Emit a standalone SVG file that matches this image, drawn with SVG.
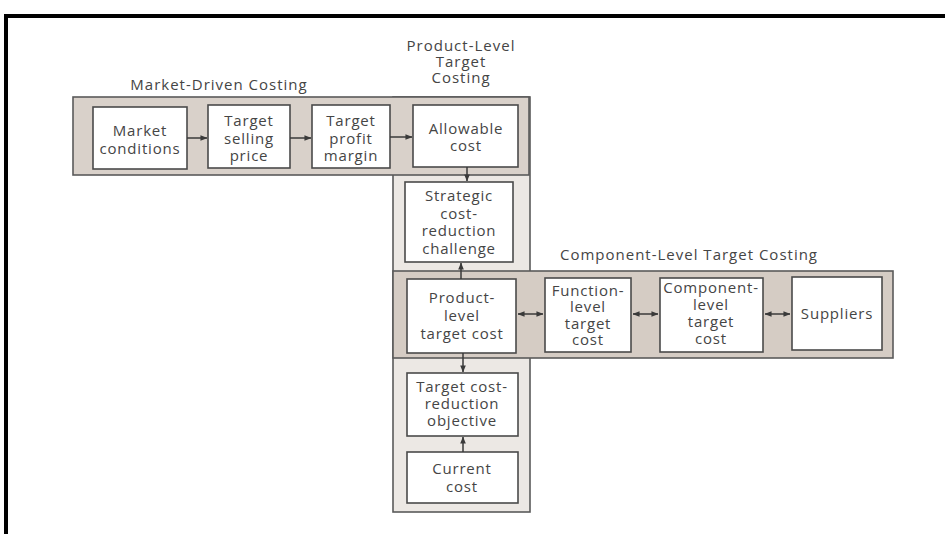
<svg xmlns="http://www.w3.org/2000/svg" width="945" height="534" viewBox="0 0 945 534">
<style>
.band{stroke:#5a5a5a;stroke-width:1.6}
.col{fill:#ece8e4}
.mk{fill:#d9d1ca}
.cp{fill:#d5ccc4}
.box{fill:#ffffff;stroke:#4a4a4a;stroke-width:1.6}
text{font-family:"Open Sans","Noto Sans","DejaVu Sans",sans-serif;fill:#454545;text-anchor:middle}
.t{font-size:15px;letter-spacing:0.8px}
.h{font-size:15px;letter-spacing:1px}
.c{stroke:#3a3a3a;stroke-width:1.5;fill:none}
</style>
<defs>
<marker id="ah" viewBox="0 0 8 8" refX="7.5" refY="4" markerWidth="7" markerHeight="7" markerUnits="userSpaceOnUse" orient="auto-start-reverse">
<path d="M0,0.8 L8,4 L0,7.2 Z" fill="#3a3a3a"/>
</marker>
</defs>
<rect width="945" height="534" fill="#ffffff"/>
<path d="M6,534 V16 H945" fill="none" stroke="#000" stroke-width="4"/>

<g id="bands">
<rect class="band col" x="393" y="97" width="137" height="415"/>
<rect class="band mk" x="73" y="97" width="456" height="78"/>
<rect class="band cp" x="393" y="271" width="500" height="87"/>
</g>

<g id="labels">
<text class="h" x="219" y="90">Market-Driven Costing</text>
<text class="h" x="461" y="51">Product-Level</text>
<text class="h" x="461" y="67">Target</text>
<text class="h" x="461" y="83">Costing</text>
<text class="h" x="689" y="260">Component-Level Target Costing</text>
</g>

<g id="market-conditions">
<rect class="box" x="93" y="107" width="94" height="62"/>
<text class="t" x="140" y="136">Market</text>
<text class="t" x="140" y="154">conditions</text>
</g>
<g id="target-selling-price">
<rect class="box" x="208" y="105" width="82" height="63"/>
<text class="t" x="249" y="126">Target</text>
<text class="t" x="249" y="144">selling</text>
<text class="t" x="249" y="161">price</text>
</g>
<g id="target-profit-margin">
<rect class="box" x="312" y="105" width="78" height="63"/>
<text class="t" x="351" y="126">Target</text>
<text class="t" x="351" y="144">profit</text>
<text class="t" x="351" y="161">margin</text>
</g>
<g id="allowable-cost">
<rect class="box" x="413" y="105" width="105" height="62"/>
<text class="t" x="466" y="134">Allowable</text>
<text class="t" x="466" y="151">cost</text>
</g>
<g id="strategic-challenge">
<rect class="box" x="405" y="182" width="108" height="80"/>
<text class="t" x="459" y="201">Strategic</text>
<text class="t" x="459" y="219">cost-</text>
<text class="t" x="459" y="236">reduction</text>
<text class="t" x="459" y="254">challenge</text>
</g>
<g id="product-level-target-cost">
<rect class="box" x="407" y="279" width="109" height="74"/>
<text class="t" x="462" y="303">Product-</text>
<text class="t" x="462" y="321">level</text>
<text class="t" x="462" y="339">target cost</text>
</g>
<g id="function-level-target-cost">
<rect class="box" x="545" y="278" width="86" height="74"/>
<text class="t" x="588" y="296">Function-</text>
<text class="t" x="588" y="312">level</text>
<text class="t" x="588" y="329">target</text>
<text class="t" x="588" y="345">cost</text>
</g>
<g id="component-level-target-cost">
<rect class="box" x="660" y="278" width="103" height="74"/>
<text class="t" x="711" y="293">Component-</text>
<text class="t" x="711" y="310">level</text>
<text class="t" x="711" y="327">target</text>
<text class="t" x="711" y="344">cost</text>
</g>
<g id="suppliers">
<rect class="box" x="792" y="277" width="90" height="73"/>
<text class="t" x="837" y="319">Suppliers</text>
</g>
<g id="target-cost-reduction-objective">
<rect class="box" x="407" y="373" width="111" height="63"/>
<text class="t" x="462" y="392">Target cost-</text>
<text class="t" x="462" y="409">reduction</text>
<text class="t" x="462" y="426">objective</text>
</g>
<g id="current-cost">
<rect class="box" x="407" y="452" width="111" height="51"/>
<text class="t" x="462" y="474">Current</text>
<text class="t" x="462" y="492">cost</text>
</g>

<g id="connectors">
<line class="c" x1="187" y1="138" x2="207" y2="138" marker-end="url(#ah)"/>
<line class="c" x1="290" y1="138" x2="311" y2="138" marker-end="url(#ah)"/>
<line class="c" x1="390" y1="137" x2="412" y2="137" marker-end="url(#ah)"/>
<line class="c" x1="467" y1="167" x2="467" y2="181" marker-end="url(#ah)"/>
<line class="c" x1="461" y1="279" x2="461" y2="263" marker-end="url(#ah)"/>
<line class="c" x1="463" y1="353" x2="463" y2="372" marker-end="url(#ah)"/>
<line class="c" x1="463" y1="452" x2="463" y2="437" marker-end="url(#ah)"/>
<line class="c" x1="518" y1="314" x2="543" y2="314" marker-start="url(#ah)" marker-end="url(#ah)"/>
<line class="c" x1="633" y1="314" x2="658" y2="314" marker-start="url(#ah)" marker-end="url(#ah)"/>
<line class="c" x1="765" y1="314" x2="790" y2="314" marker-start="url(#ah)" marker-end="url(#ah)"/>
</g>
</svg>
